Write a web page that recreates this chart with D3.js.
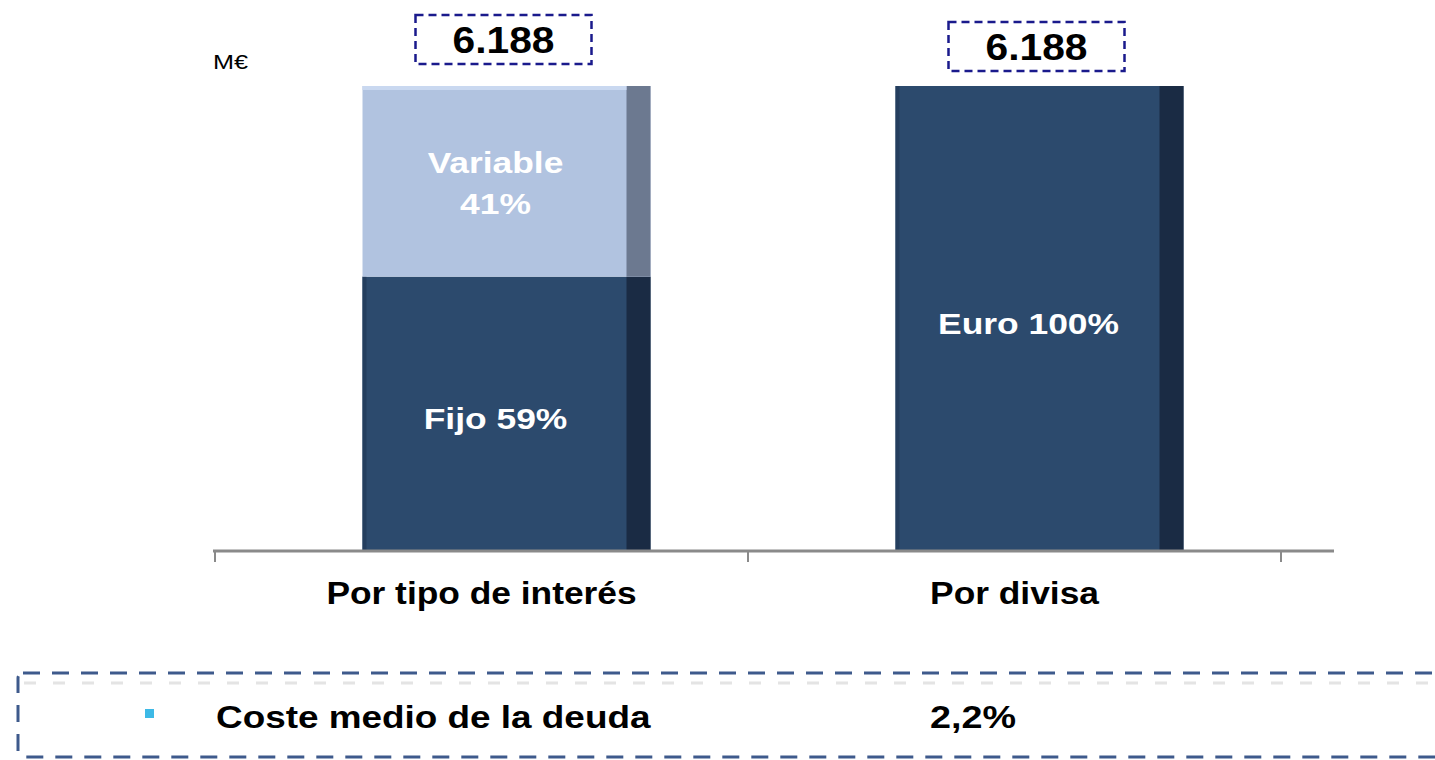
<!DOCTYPE html>
<html>
<head>
<meta charset="utf-8">
<script src="https://cdn.jsdelivr.net/npm/d3@7"></script>
<style>
  body { margin: 0; background: #fff; }
  text { font-family: "Liberation Sans", Arial, sans-serif; }
</style>
</head>
<body>
<script>
var categories = ['Por tipo de interés', 'Por divisa'];
var totals = [6188, 6188];
var totalLabels = ['6.188', '6.188'];
// stacked segments per category, bottom first (percent)
var segLower = [59, 100];
var segUpper = [41, 0];
var lowerLabels = [['Fijo 59%'], ['Euro 100%']];
var upperLabels = [['Variable', '41%'], []];
var unitLabel = 'M€';
var costLabel = 'Coste medio de la deuda';
var costValue = '2,2%';

var W = 1435, H = 760;
var svg = d3.select('body').append('svg').attr('width', W).attr('height', H);

var x = d3.scaleBand().domain(categories).range([215, 1281]).paddingInner(0).paddingOuter(0);
var y = d3.scaleLinear().domain([0, 100]).range([551, 86]);

var barW = 288, shift = 25, stripW = 24;

// text is drawn a bit wider than normal, like the original slide
function label(parent, px, py, str, size, anchor, sx, weight, fill) {
  return parent.append('text')
    .attr('transform', 'translate(' + px + ',' + py + ') scale(' + sx + ',1)')
    .attr('text-anchor', anchor).attr('font-size', size)
    .attr('font-weight', weight).attr('fill', fill).text(str);
}

var g = svg.append('g');

categories.forEach(function (c, i) {
  var cx = x(c) + x.bandwidth() / 2 + shift;
  var x0 = cx - barW / 2;
  // lower segment
  g.append('rect').attr('x', x0).attr('y', y(segLower[i])).attr('width', barW).attr('height', y(0) - y(segLower[i]))
    .attr('fill', '#2c4a6d');
  g.append('rect').attr('x', x0 + barW - stripW).attr('y', y(segLower[i])).attr('width', stripW).attr('height', y(0) - y(segLower[i]))
    .attr('fill', '#1a2b44');
  g.append('rect').attr('x', x0).attr('y', y(segLower[i])).attr('width', 4).attr('height', y(0) - y(segLower[i]))
    .attr('fill', '#243e5e');
  if (segUpper[i] > 0) {
    var top = segLower[i] + segUpper[i];
    g.append('rect').attr('x', x0).attr('y', y(top)).attr('width', barW).attr('height', y(segLower[i]) - y(top))
      .attr('fill', '#b1c3e0');
    g.append('rect').attr('x', x0 + barW - stripW).attr('y', y(top)).attr('width', stripW).attr('height', y(segLower[i]) - y(top))
      .attr('fill', '#6c7990');
    g.append('rect').attr('x', x0).attr('y', y(top)).attr('width', barW - stripW).attr('height', 4)
      .attr('fill', '#c9d8f0');
  }
  var tx = cx - 11;
  var lmid = (y(0) + y(segLower[i])) / 2;
  lowerLabels[i].forEach(function (t, j, arr) {
    label(g, tx, lmid + 15 + (j - (arr.length - 1) / 2) * 41, t, 30, 'middle', 1.18, 'bold', '#fff');
  });
  if (segUpper[i] > 0) {
    var umid = (y(segLower[i]) + y(segLower[i] + segUpper[i])) / 2;
    upperLabels[i].forEach(function (t, j, arr) {
      label(g, tx, umid + 12 + (j - (arr.length - 1) / 2) * 41, t, 30, 'middle', 1.18, 'bold', '#fff');
    });
  }
  // total box
  var bc = x(c) + x.bandwidth() / 2 + 22;
  var by = i === 0 ? 15 : 22;
  g.append('rect').attr('x', bc - 88).attr('y', by).attr('width', 176).attr('height', 49)
    .attr('fill', 'none').attr('stroke', '#1a1a8c').attr('stroke-width', 2.5).attr('stroke-dasharray', '8,5');
  label(g, bc, by + 38, totalLabels[i], 37, 'middle', 1.1, 'bold', '#000');
  // category label
  label(g, x(c) + x.bandwidth() / 2, 604, c, 31, 'middle', 1.14, 'bold', '#000');
});

// axis
var axisG = svg.append('g').attr('transform', 'translate(0,551)');
axisG.append('line').attr('x1', 213).attr('x2', 1334).attr('y1', 0).attr('y2', 0)
  .attr('stroke', '#8a8a8a').attr('stroke-width', 3);
var tickXs = [x.range()[0]].concat(categories.map(function (c) { return x(c) + x.bandwidth(); }));
tickXs.forEach(function (t) {
  axisG.append('line').attr('x1', t).attr('x2', t).attr('y1', 0).attr('y2', 11)
    .attr('stroke', '#8a8a8a').attr('stroke-width', 2);
});

label(svg, 213, 69, unitLabel, 21, 'start', 1.2, 'normal', '#000');

// bottom dashed box
svg.append('rect').attr('x', 18).attr('y', 673).attr('width', 1440).attr('height', 84).attr('rx', 5)
  .attr('fill', 'none').attr('stroke', '#3e5a8c').attr('stroke-width', 3).attr('stroke-dasharray', '17,12');
svg.append('line').attr('x1', 24).attr('x2', 1435).attr('y1', 683).attr('y2', 683)
  .attr('stroke', '#e4e4e4').attr('stroke-width', 3).attr('stroke-dasharray', '12,17');
svg.append('rect').attr('x', 145).attr('y', 709).attr('width', 9).attr('height', 9).attr('fill', '#3db9e6');
label(svg, 216, 728, costLabel, 31, 'start', 1.19, 'bold', '#000');
label(svg, 930, 728, costValue, 32, 'start', 1.18, 'bold', '#000');
</script>
</body>
</html>
